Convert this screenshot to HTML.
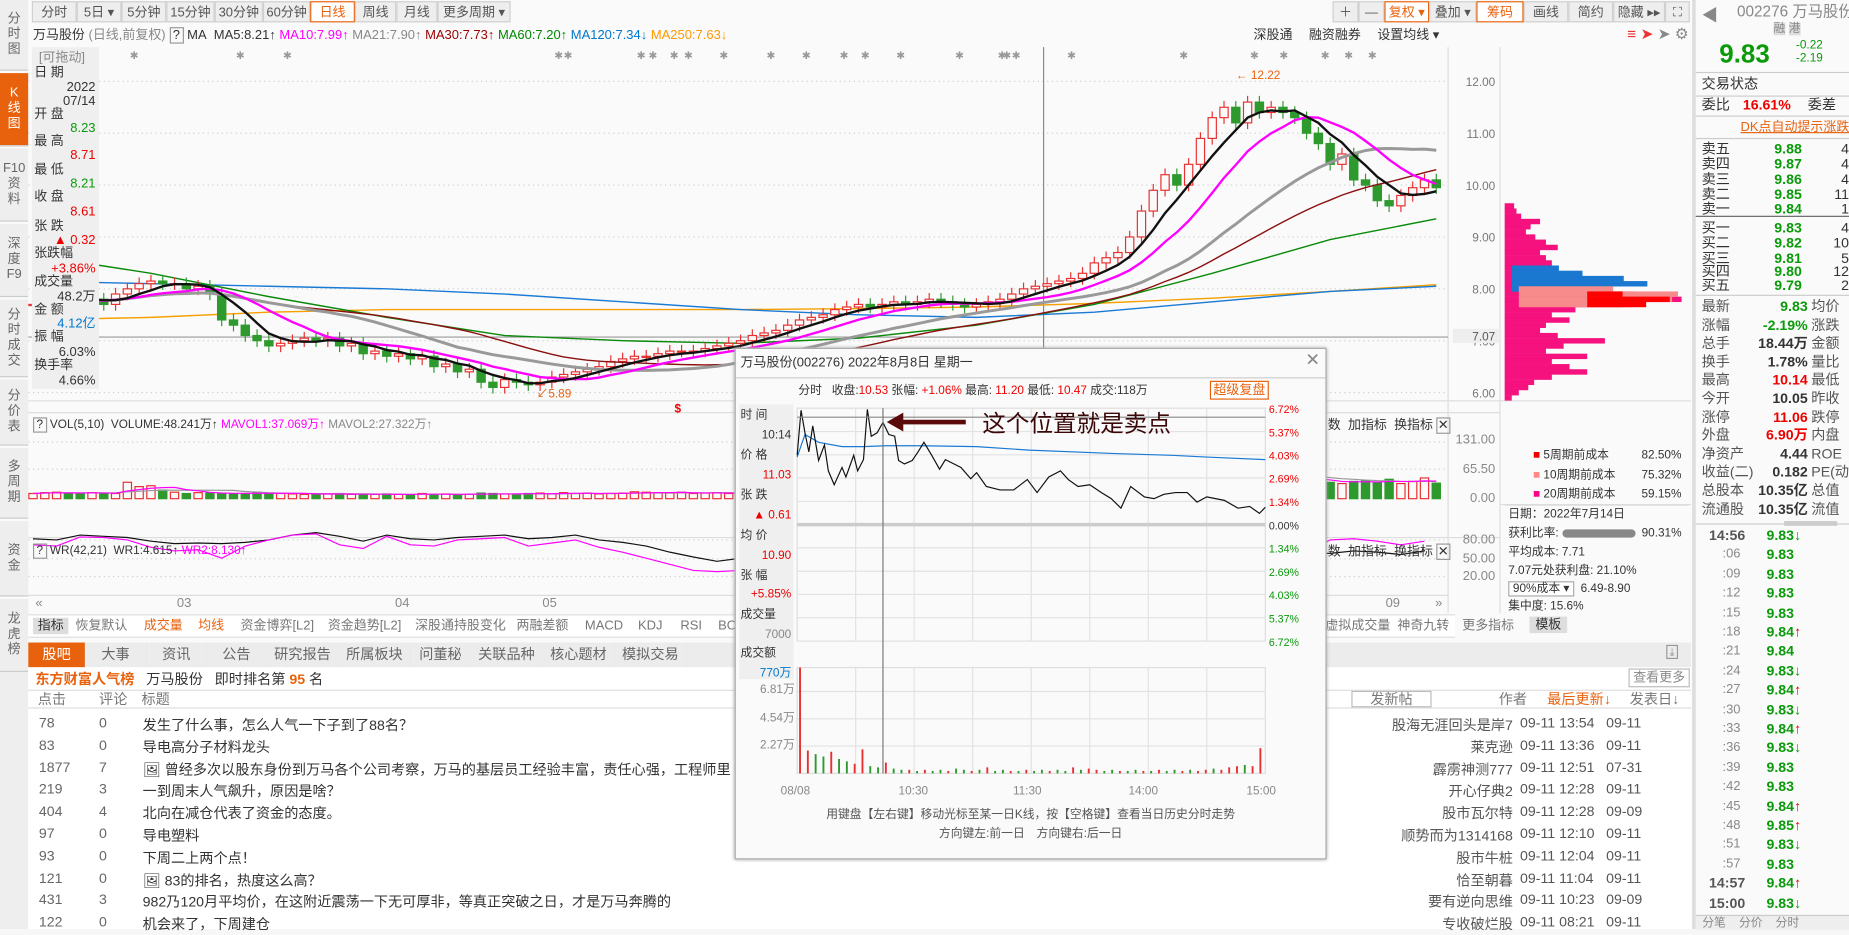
<!DOCTYPE html>
<html><head><meta charset="utf-8">
<style>
html,body{margin:0;padding:0;width:1849px;height:929px;overflow:hidden;background:#f7f7f7}
#root{position:absolute;left:0;top:0;width:1568px;height:788px;transform:scale(1.17921,1.17894);transform-origin:0 0;background:#fafafa;font-family:"Liberation Sans","Noto Sans CJK SC",sans-serif;font-size:11px;color:#333}
.a{position:absolute;white-space:nowrap;line-height:14px}
.r{text-align:right}
.btn{position:absolute;top:1px;height:18px;line-height:18px;text-align:center;background:#eeeeee;border:1px solid #d0d0d0;color:#555;font-size:11px;box-sizing:border-box}
.side{position:absolute;left:0;width:24px;background:#eeeeee;border-bottom:1px solid #ccc;color:#666;font-size:11px;text-align:center;line-height:13px;display:flex;align-items:center;justify-content:center;box-sizing:border-box}
.g{color:#0a9a0a}.red{color:#e00}.gr{color:#888}
.tab{position:absolute;top:545px;height:21px;line-height:21px;text-align:center;background:#ececec;border-right:1px solid #ccc;color:#666;font-size:12px}
.row{position:absolute;left:27px;width:1190px;height:18px;font-size:12px;color:#333}
.row span{position:absolute;top:0;white-space:nowrap}
</style></head><body>
<div id="root">

<!-- left sidebar -->
<div class="side" style="top:0;height:60px">分<br>时<br>图</div>
<div class="side" style="top:62px;height:62px;background:#e8620e;color:#fff">K<br>线<br>图</div>
<div class="side" style="top:126px;height:62px">F10<br>资<br>料</div>
<div class="side" style="top:190px;height:62px">深<br>度<br>F9</div>
<div class="side" style="top:254px;height:66px">分<br>时<br>成<br>交</div>
<div class="side" style="top:322px;height:56px">分<br>价<br>表</div>
<div class="side" style="top:380px;height:60px">多<br>周<br>期</div>
<div class="side" style="top:442px;height:64px">资<br>金</div>
<div class="side" style="top:508px;height:62px">龙<br>虎<br>榜</div>
<div class="side" style="top:570px;height:218px;border:none"></div>

<!-- top toolbar -->
<div class="btn" style="left:27px;width:38px">分时</div>
<div class="btn" style="left:65px;width:38px">5日 ▾</div>
<div class="btn" style="left:103px;width:38px">5分钟</div>
<div class="btn" style="left:141px;width:41px">15分钟</div>
<div class="btn" style="left:182px;width:41px">30分钟</div>
<div class="btn" style="left:223px;width:40px">60分钟</div>
<div class="btn" style="left:263px;width:38px;background:#fff;border-color:#e8620e;color:#e8620e">日线</div>
<div class="btn" style="left:301px;width:35px">周线</div>
<div class="btn" style="left:336px;width:35px">月线</div>
<div class="btn" style="left:371px;width:62px">更多周期 ▾</div>
<div class="btn" style="left:1130px;width:22px">＋</div>
<div class="btn" style="left:1152px;width:22px">—</div>
<div class="btn" style="left:1174px;width:38px;background:#fff;border-color:#e8620e;color:#e8620e">复权 ▾</div>
<div class="btn" style="left:1212px;width:40px">叠加 ▾</div>
<div class="btn" style="left:1252px;width:40px;background:#fff;border-color:#e8620e;color:#e8620e">筹码</div>
<div class="btn" style="left:1292px;width:38px">画线</div>
<div class="btn" style="left:1330px;width:38px">简约</div>
<div class="btn" style="left:1368px;width:44px">隐藏 ▸▸</div>
<div class="btn" style="left:1412px;width:21px">⛶</div>

<!-- MA legend -->
<div class="a" style="left:28px;top:23px;font-size:11px">万马股份 <span class="gr">(日线,前复权)</span> <span style="border:1px solid #999;padding:0 2px">?</span> MA&nbsp; <span>MA5:8.21↑</span> <span style="color:#f0f">MA10:7.99↑</span> <span class="gr">MA21:7.90↑</span> <span style="color:#900">MA30:7.73↑</span> <span style="color:#080">MA60:7.20↑</span> <span style="color:#07c">MA120:7.34↓</span> <span style="color:#f90">MA250:7.63↓</span></div>
<div class="a" style="left:1063px;top:23px">深股通</div>
<div class="a" style="left:1110px;top:23px">融资融券</div>
<div class="a" style="left:1168px;top:23px">设置均线 ▾</div>
<div class="a" style="left:1380px;top:22px;color:#e33;font-size:13px">≡ ➤ <span class="gr">➤ ⚙</span></div>

<svg id="main" class="a" style="left:0;top:0" width="1568" height="788"></svg>

<!-- info panel -->
<div class="a" style="left:27px;top:40px;width:57px;height:290px;background:#efefef;font-size:11px;line-height:12px">
<div class="a gr" style="left:6px;top:2px">[可拖动]</div>
<div class="a" style="left:2px;top:15px">日 期</div><div class="a r" style="right:3px;top:27px">2022</div><div class="a r" style="right:3px;top:39px">07/14</div>
<div class="a" style="left:2px;top:50px">开 盘</div><div class="a r g" style="right:3px;top:62px">8.23</div>
<div class="a" style="left:2px;top:73px">最 高</div><div class="a r red" style="right:3px;top:85px">8.71</div>
<div class="a" style="left:2px;top:97px">最 低</div><div class="a r g" style="right:3px;top:109px">8.21</div>
<div class="a" style="left:2px;top:120px">收 盘</div><div class="a r red" style="right:3px;top:133px">8.61</div>
<div class="a" style="left:2px;top:145px">张 跌</div><div class="a r red" style="right:3px;top:157px">▲ 0.32</div>
<div class="a" style="left:2px;top:168px">张跌幅</div><div class="a r red" style="right:3px;top:181px">+3.86%</div>
<div class="a" style="left:2px;top:192px">成交量</div><div class="a r" style="right:3px;top:205px">48.2万</div>
<div class="a" style="left:2px;top:216px">金 额</div><div class="a r" style="right:3px;top:228px;color:#07c">4.12亿</div>
<div class="a" style="left:2px;top:239px">振 幅</div><div class="a r" style="right:3px;top:252px">6.03%</div>
<div class="a" style="left:2px;top:263px">换手率</div><div class="a r" style="right:3px;top:276px">4.66%</div>
</div>

<!-- sub panel headers -->
<div class="a" style="left:28px;top:354px;font-size:10px"><span style="border:1px solid #999;padding:0 2px">?</span> VOL(5,10)&nbsp; VOLUME:48.241万↑ <span style="color:#f0f">MAVOL1:37.069万↑</span> <span class="gr">MAVOL2:27.322万↑</span></div>
<div class="a" style="left:28px;top:461px;font-size:10px"><span style="border:1px solid #999;padding:0 2px">?</span> WR(42,21)&nbsp; WR1:4.615↑ <span style="color:#f0f">WR2:8.130↑</span></div>
<div class="a" style="left:1126px;top:354px">数&nbsp; 加指标&nbsp; 换指标 <span style="border:1px solid #999">✕</span></div>
<div class="a" style="left:1126px;top:461px">数&nbsp; 加指标&nbsp; 换指标 <span style="border:1px solid #999">✕</span></div>
<div class="a gr r" style="left:1228px;width:40px;top:366px">131.00</div>
<div class="a gr r" style="left:1228px;width:40px;top:391px">65.50</div>
<div class="a gr r" style="left:1228px;width:40px;top:416px">0.00</div>
<div class="a gr r" style="left:1228px;width:40px;top:451px">80.00</div>
<div class="a gr r" style="left:1228px;width:40px;top:467px">50.00</div>
<div class="a gr r" style="left:1228px;width:40px;top:482px">20.00</div>
<div class="a gr" style="left:30px;top:505px">«</div>
<div class="a gr" style="left:150px;top:505px">03</div>
<div class="a gr" style="left:335px;top:505px">04</div>
<div class="a gr" style="left:460px;top:505px">05</div>
<div class="a gr" style="left:1175px;top:505px">09</div>
<div class="a gr" style="left:1217px;top:505px">»</div>

<!-- indicator tabs -->
<div class="a" style="left:24px;top:521px;width:1210px;height:18px;background:#fff;border-top:1px solid #ddd;border-bottom:1px solid #ddd;font-size:11px;color:#777">
<span class="a" style="left:4px;top:2px;background:#ddd;padding:0 4px;color:#333">指标</span>
<span class="a" style="left:40px;top:2px">恢复默认</span>
<span class="a" style="left:98px;top:2px;color:#e8620e">成交量</span>
<span class="a" style="left:144px;top:2px;color:#e8620e">均线</span>
<span class="a" style="left:180px;top:2px">资金博弈[L2]</span>
<span class="a" style="left:254px;top:2px">资金趋势[L2]</span>
<span class="a" style="left:328px;top:2px">深股通持股变化</span>
<span class="a" style="left:414px;top:2px">两融差额</span>
<span class="a" style="left:472px;top:2px">MACD</span>
<span class="a" style="left:517px;top:2px">KDJ</span>
<span class="a" style="left:553px;top:2px">RSI</span>
<span class="a" style="left:585px;top:2px">BO</span>
<span class="a" style="left:1100px;top:2px">虚拟成交量</span>
<span class="a" style="left:1161px;top:2px">神奇九转</span>
<span class="a" style="left:1216px;top:2px">更多指标</span>
</div>
<div class="a" style="left:1297px;top:523px;background:#ddd;padding:0 5px">模板</div>

<!-- chip info -->
<div class="a" style="left:1300px;top:380px;font-size:10px">
<div class="a" style="left:0;top:0"><span style="color:#e00">■</span> 5周期前成本</div><div class="a" style="left:92px;top:0">82.50%</div>
<div class="a" style="left:0;top:17px"><span style="color:#f88">■</span> 10周期前成本</div><div class="a" style="left:92px;top:17px">75.32%</div>
<div class="a" style="left:0;top:33px"><span style="color:#f08">■</span> 20周期前成本</div><div class="a" style="left:92px;top:33px">59.15%</div></div>
<div class="a" style="left:1276px;top:428px;width:156px;height:92px;font-size:10px;border-top:1px solid #ddd;line-height:16px">
<div class="a" style="left:3px;top:1px">日期：2022年7月14日</div>
<div class="a" style="left:3px;top:17px">获利比率: <span style="display:inline-block;width:62px;height:7px;background:#888;border-radius:4px;vertical-align:middle"></span>&nbsp; 90.31%</div>
<div class="a" style="left:3px;top:33px">平均成本: 7.71</div>
<div class="a" style="left:3px;top:49px">7.07元处获利盘: 21.10%</div>
<div class="a" style="left:3px;top:64px"><span style="border:1px solid #aaa;padding:0 3px;background:#fff">90%成本 ▾</span>&nbsp; 6.49-8.90</div>
<div class="a" style="left:3px;top:79px">集中度: 15.6%</div></div>

<!-- right quote panel -->
<div class="a" style="left:1435px;top:0;width:133px;height:788px;background:#fafafa;border-left:3px solid #ddd;font-size:12px">
<div class="a gr" style="left:5px;top:6px;font-size:14px">◀</div>
<div class="a gr" style="left:35px;top:3px;font-size:13px">002276 万马股份</div>
<div class="a gr" style="left:66px;top:18px;font-size:10px"><span style="background:#ddd">融</span> <span style="background:#ddd">港</span></div>
<div class="a g" style="left:20px;top:34px;font-size:22px;line-height:24px;font-weight:bold">9.83</div>
<div class="a g" style="left:85px;top:33px;font-size:10px;line-height:11px">-0.22<br>-2.19</div>
<div class="a" style="left:0;top:61px;width:133px;border-top:1px solid #ccc;border-bottom:1px solid #ccc;height:19px;line-height:19px;padding-left:5px">交易状态</div>
<div class="a" style="left:5px;top:82px">委比</div><div class="a red" style="left:40px;top:82px;font-weight:bold">16.61%</div><div class="a" style="left:95px;top:82px">委差</div>
<div class="a" style="left:0;top:98px;width:133px;border-top:1px solid #ccc"></div>
<div class="a" style="left:38px;top:101px;color:#e8620e;text-decoration:underline;font-size:11px">DK点自动提示涨跌</div>
<div class="a" style="left:0;top:117px;width:133px;border-top:1px solid #ccc"></div>
<div id="book"></div>
<div class="a" style="left:0;top:444px;width:133px;border-top:1px solid #ccc"></div>
<div class="a" style="left:75px;top:442px;width:45px;height:4px;background:#ccc"></div>
<div id="ticks"></div>
<div class="a" style="left:0;top:776px;width:133px;height:12px;background:#eee;border-top:1px solid #ccc;font-size:10px;color:#888">&nbsp;&nbsp;分笔&nbsp;&nbsp;&nbsp; 分价&nbsp;&nbsp;&nbsp; 分时</div>
</div>

<!-- news section -->
<div class="tab" style="left:24px;width:48px;background:#e8620e;color:#fff">股吧</div>
<div class="tab" style="left:72px;width:52px">大事</div>
<div class="tab" style="left:124px;width:51px">资讯</div>
<div class="tab" style="left:175px;width:51px">公告</div>
<div class="tab" style="left:226px;width:61px">研究报告</div>
<div class="tab" style="left:287px;width:61px">所属板块</div>
<div class="tab" style="left:348px;width:51px">问董秘</div>
<div class="tab" style="left:399px;width:61px">关联品种</div>
<div class="tab" style="left:460px;width:61px">核心题材</div>
<div class="tab" style="left:521px;width:61px">模拟交易</div>
<div class="a" style="left:582px;top:545px;width:852px;height:21px;background:#ececec"></div>
<div class="a gr" style="left:1413px;top:547px;border:1px solid #999;font-size:9px;line-height:10px;padding:0 2px">⤓</div>
<div class="a" style="left:24px;top:566px;width:1410px;height:222px;background:#fff"></div>
<div class="a" style="left:30px;top:568px;font-size:12px;line-height:16px"><b style="color:#e8620e">东方财富人气榜</b>&nbsp;&nbsp; 万马股份&nbsp;&nbsp; 即时排名第 <b style="color:#e8620e">95</b> 名</div>
<div class="a gr" style="left:1381px;top:567px;border:1px solid #bbb;padding:0 3px;font-size:11px">查看更多</div>
<div class="a" style="left:24px;top:585px;width:1410px;height:14px;border-top:1px solid #ddd;border-bottom:1px solid #ddd;color:#777;font-size:12px;line-height:14px">
<span class="a" style="left:8px">点击</span><span class="a" style="left:60px">评论</span><span class="a" style="left:96px">标题</span>
<span class="a" style="left:1122px;top:0;border:1px solid #bbb;width:66px;text-align:center;height:12px;line-height:12px">发新帖</span>
<span class="a" style="left:1247px">作者</span><span class="a" style="left:1288px;color:#e8620e">最后更新↓</span><span class="a" style="left:1358px">发表日↓</span></div>
<div id="news"></div>

<!-- popup -->
<div class="a" style="left:623px;top:295px;width:500px;height:432px;background:#fafafa;border:1px solid #aaa;box-shadow:0 0 3px #999">
<svg id="pop" class="a" style="left:0;top:0" width="500" height="432"></svg>
<div class="a" style="left:4px;top:5px;font-size:11px">万马股份(002276) 2022年8月8日 星期一</div>
<div class="a gr" style="left:483px;top:3px;font-size:15px">✕</div>
<div class="a" style="left:0;top:24px;width:500px;border-top:1px solid #ccc"></div>
<div class="a" style="left:53px;top:29px;font-size:10px">分时&nbsp;&nbsp; 收盘:<span class="red">10.53</span> 张幅: <span class="red">+1.06%</span> 最高: <span class="red">11.20</span> 最低: <span class="red">10.47</span> 成交:118万</div>
<div class="a" style="left:402px;top:27px;border:1px solid #e8620e;color:#e8620e;padding:0 2px;font-size:11px;background:#fff">超级复盘</div>
<div class="a" style="left:3px;top:47px;width:46px;height:233px;background:#efefef;font-size:10px;line-height:12px">
<div class="a" style="left:1px;top:3px">时 间</div><div class="a r" style="right:2px;top:20px">10:14</div>
<div class="a" style="left:1px;top:37px">价 格</div><div class="a r red" style="right:2px;top:54px">11.03</div>
<div class="a" style="left:1px;top:71px">张 跌</div><div class="a r red" style="right:2px;top:88px">▲ 0.61</div>
<div class="a" style="left:1px;top:105px">均 价</div><div class="a r red" style="right:2px;top:122px">10.90</div>
<div class="a" style="left:1px;top:139px">张 幅</div><div class="a r red" style="right:2px;top:155px">+5.85%</div>
<div class="a" style="left:1px;top:172px">成交量</div><div class="a r gr" style="right:2px;top:189px">7000</div>
<div class="a" style="left:1px;top:205px">成交额</div><div class="a r" style="right:2px;top:222px;color:#07c">770万</div></div>
<div class="a gr r" style="left:0;width:50px;top:283px;font-size:10px">6.81万</div>
<div class="a gr r" style="left:0;width:50px;top:307px;font-size:10px">4.54万</div>
<div class="a gr r" style="left:0;width:50px;top:330px;font-size:10px">2.27万</div>
<div class="a gr" style="left:38px;top:369px;font-size:10px">08/08</div>
<div class="a gr" style="left:138px;top:369px;font-size:10px">10:30</div>
<div class="a gr" style="left:235px;top:369px;font-size:10px">11:30</div>
<div class="a gr" style="left:333px;top:369px;font-size:10px">14:00</div>
<div class="a gr" style="left:433px;top:369px;font-size:10px">15:00</div>
<div class="a" style="left:0;top:388px;width:500px;text-align:center;font-size:10px;color:#555;line-height:16px">用键盘【左右键】移动光标至某一日K线，按【空格键】查看当日历史分时走势<br>方向键左:前一日　方向键右:后一日</div>
<div class="a" style="left:209px;top:52px;font-size:20px;line-height:24px;color:#3a0808">这个位置就是卖点</div>
</div>
</div>

<script>
const NS='http://www.w3.org/2000/svg';
// ===== daily K-line data =====
const closes=[7.7,7.8,7.9,7.8,7.7,7.8,
7.7,7.9,8.0,8.1,8.15,8.1,8.1,8.0,8.05,7.9,
7.4,7.3,7.1,7.0,6.9,6.95,7.0,7.05,7.0,7.05,
6.9,6.95,6.75,6.8,6.7,6.75,6.65,6.7,6.5,6.55,
6.4,6.45,6.2,6.1,6.25,6.2,6.15,6.2,6.3,6.35,
6.4,6.45,6.5,6.6,6.65,6.7,6.7,6.75,6.8,6.8,
6.8,6.85,6.9,6.95,7.0,7.1,7.15,7.2,7.3,7.4,
7.45,7.5,7.6,7.65,7.7,7.65,7.7,7.75,7.7,7.75,
7.8,7.75,7.7,7.65,7.7,7.75,7.8,7.9,8.0,8.05,
8.1,8.15,8.2,8.3,8.5,8.6,8.7,9.0,9.5,9.9,
10.2,10.0,10.4,10.9,11.3,11.5,11.2,11.6,11.4,11.5,
11.4,11.3,11.0,10.8,10.4,10.6,10.1,10.0,9.7,9.6,
9.8,9.95,10.1,9.95];
const volumes=[12,14,15,13,12,14,13,12,38,28,
30,20,15,12,14,13,12,11,12,15,
13,12,11,10,10,11,12,10,9,10,
11,10,9,12,10,11,9,10,13,12,
11,10,12,13,11,14,12,13,11,12,
13,16,15,14,13,15,12,13,14,12,
14,15,16,18,15,17,16,18,20,19,
17,18,16,15,17,16,18,17,19,18,
20,22,21,24,26,25,28,30,27,32,
35,38,40,45,60,65,70,55,62,58,
66,60,55,58,50,48,52,45,40,42,
38,35,40,42,38,45,35,40,48,36];
const longMaIdx=[0,10,20,30,40,50,60,70,80,90,100,110,119];
const ma60=[8.65,8.3,7.85,7.45,7.1,7.0,6.95,7.05,7.3,7.7,8.3,8.95,9.35];
const ma120=[8.15,8.1,8.05,8.0,7.9,7.75,7.6,7.5,7.45,7.55,7.75,7.95,8.05];
const ma250=[7.4,7.45,7.55,7.6,7.6,7.6,7.6,7.62,7.65,7.72,7.82,7.95,8.08];
const priceTicks=[12,11,10,9,8,7,6];
const wr1=[82,80,88,86,84,78,74,75,74,76,80,88,92,86,78,88,82,80,84,86,88,
82,84,88,80,76,70,60,52,45,
50,55,60,62,65,70,72,70,68,72,75,78,80,78,82,85,88,85,80,75,70,68,65,60,58,
58,62,60,56,62];
const wr2=[72,70,85,84,80,68,62,64,50,70,80,88,90,72,66,86,72,70,80,82,84,
70,75,80,68,60,50,40,30,28,
30,35,45,50,55,60,62,60,58,62,70,75,78,74,80,84,90,86,80,76,72,70,66,62,60,
80,82,78,72,78];
// chip distribution
const chipP=[9.6,9.5,9.4,9.3,9.2,9.1,9.0,8.9,8.8,8.7,8.6,8.5,8.4,8.3,8.2,8.1,8.0,7.9,7.8,7.7,7.6,7.5,7.4,7.3,7.2,7.1,7.0,6.9,6.8,6.7,6.6,6.5,6.4,6.3,6.2,6.1,6.0,5.9];
const chipPink=[8,10,14,30,22,18,26,35,45,30,35,40,45,30,25,22,60,110,150,100,60,40,55,35,30,45,85,50,35,70,40,55,70,40,25,20,12,6];
const chipBlue=[0,0,0,0,0,0,0,0,0,0,0,0,40,60,95,115,45,0,0,0,0,0,0,0,0,0,0,0,0,0,0,0,0,0,0,0,0,0];
const chipSalmon=[0,0,0,0,0,0,0,0,0,0,0,0,0,0,0,0,80,135,130,95,0,0,0,0,0,0,0,0,0,0,0,0,0,0,0,0,0,0];
const chipRed=[0,0,0,0,0,0,0,0,0,0,0,0,0,0,0,0,0,30,70,50,0,0,0,0,0,0,0,0,0,0,0,0,0,0,0,0,0,0];

const X0=28,DX=10;
const xOf=i=>X0+i*DX;
const yOf=p=>69+(12-p)*44;
const vY=v=>423-v*48/131;
const wrX=j=>X0+j*20;
const wrY=v=>458+(80-v)*31/60;

function mk(tag,at){const e=document.createElementNS(NS,tag);for(const k in at)e.setAttribute(k,at[k]);return e;}
const S=document.getElementById('main');

let r=mk('rect',{x:24,y:40,width:1204,height:300,fill:'#fafafa'});S.appendChild(r);
[[24,340,1434,340],[24,350,1228,350],[24,456,1228,456],[24,505,1228,505],[1228,40,1228,520],[1272,40,1272,520],[1228,350,1272,350],[1228,456,1272,456],[1272,428,1434,428]].forEach(a=>{
 const l=mk('line',{x1:a[0],y1:a[1],x2:a[2],y2:a[3],stroke:'#ddd'});
 
 
 S.appendChild(l);});
priceTicks.forEach(p=>{
 const l=mk('line',{x1:24,x2:1228,y1:yOf(p),y2:yOf(p),stroke:'#ccc','stroke-dasharray':'1,3'});
 
 
 S.appendChild(l);
 const t=mk('text',{x:1268,y:yOf(p)+4,'text-anchor':'end','font-size':10,fill:'#777'});t.textContent=p.toFixed(2);
 
 
 S.appendChild(t);});
[375,398].forEach(y=>{const l=mk('line',{x1:24,x2:1228,y1:y,y2:y,stroke:'#ccc','stroke-dasharray':'1,3'});S.appendChild(l);});
[458,474,489].forEach(y=>{const l=mk('line',{x1:24,x2:1228,y1:y,y2:y,stroke:'#ccc','stroke-dasharray':'1,3'});S.appendChild(l);});
let cp=mk('line',{x1:24,x2:1228,y1:yOf(7.07),y2:yOf(7.07),stroke:'#999'});S.appendChild(cp);
let cb=mk('rect',{x:1232,y:yOf(7.07)-7,width:40,height:12,fill:'#eee'});S.appendChild(cb);
let ct=mk('text',{x:1268,y:yOf(7.07)+3,'text-anchor':'end','font-size':10,fill:'#555'});ct.textContent='7.07';S.appendChild(ct);
let cur=mk('line',{x1:885,x2:885,y1:40,y2:340,stroke:'#888'});S.appendChild(cur);
[110,200,240,470,478,540,550,568,580,610,650,680,712,730,760,810,846,850,858,905,1000,1060,1085,1120,1140,1160].forEach(x=>{
 const t=mk('text',{x:x,y:50,'font-size':9,fill:'#999'});t.textContent='✱';
 
 
 S.appendChild(t);});

function poly(pts,col,w,name){const p=mk('polyline',{points:pts.map(q=>q.join(',')).join(' '),fill:'none',stroke:col,'stroke-width':w});S.appendChild(p);}
poly(longMaIdx.map((ix,k)=>[xOf(ix),yOf(ma250[k])]),'#f5a000',1.2,'ma250-line');
poly(longMaIdx.map((ix,k)=>[xOf(ix),yOf(ma120[k])]),'#1a7ad4',1.2,'ma120-line');
poly(longMaIdx.map((ix,k)=>[xOf(ix),yOf(ma60[k])]),'#0a8a0a',1.2,'ma60-line');
function ma(arr,n){return arr.map((v,i)=>{const s=arr.slice(Math.max(0,i-n+1),i+1);return s.reduce((a,b)=>a+b,0)/s.length;});}
closes.forEach((c,i)=>{
 const o=i?closes[i-1]:c; const up=c>=o; const col=up?'#e83030':'#2e9a2e';
 const hi=Math.max(o,c)+0.12, lo=Math.min(o,c)-0.12;
 const w=mk('line',{x1:xOf(i),x2:xOf(i),y1:yOf(hi),y2:yOf(lo),stroke:col});
 
 
 S.appendChild(w);
 const b=mk('rect',{x:xOf(i)-3.5,y:yOf(Math.max(o,c)),width:7,height:Math.max(1,Math.abs(yOf(o)-yOf(c))),fill:up?'#fafafa':col,stroke:col});
 
 
 S.appendChild(b);
 const vb=mk('rect',{x:xOf(i)-3.5,y:vY(volumes[i]),width:7,height:423-vY(volumes[i]),fill:up?'#fafafa':col,stroke:col});
 
 
 S.appendChild(vb);
});
poly(ma(closes,30).map((v,i)=>[xOf(i),yOf(v)]),'#8b1010',1.2,'ma30-line');
poly(ma(closes,21).map((v,i)=>[xOf(i),yOf(v)]),'#999',2.5,'ma21-line');
poly(ma(closes,10).map((v,i)=>[xOf(i),yOf(v)]),'#ff00ff',2,'ma10-line');
poly(ma(closes,5).map((v,i)=>[xOf(i),yOf(v)]),'#111',2,'ma5-line');
poly(ma(volumes,10).map((v,i)=>[xOf(i),vY(v)]),'#999',1,'mavol2-line');
poly(ma(volumes,5).map((v,i)=>[xOf(i),vY(v)]),'#ff00ff',1,'mavol1-line');
poly(wr1.map((v,j)=>[wrX(j),wrY(v)]),'#111',1,'wr1-line');
poly(wr2.map((v,j)=>[wrX(j),wrY(v)]),'#ff00ff',1,'wr2-line');
let hl=mk('text',{x:1048,y:67,'font-size':10,fill:'#e8620e'});hl.textContent='← 12.22';S.appendChild(hl);
let ll=mk('text',{x:455,y:337,'font-size':10,fill:'#e8620e'});ll.textContent='↙5.89';S.appendChild(ll);
let dl=mk('text',{x:572,y:350,'font-size':10,fill:'#e00','font-weight':'bold'});dl.textContent='$';S.appendChild(dl);
const chipX0=1276;
function chipLayer(arr,start,col,name){arr.forEach((w,k)=>{if(!w)return;
 const rr=mk('rect',{x:chipX0+start,y:yOf(chipP[k])-2.2,width:w,height:4.6,fill:col});
 
 
 S.appendChild(rr);});}
chipLayer(chipPink,0,'#f5117e','chip-bar-20');
chipLayer(chipBlue,6,'#1a78d0','chip-bar-blue');
chipLayer(chipSalmon,12,'#f78a8a','chip-bar-10');
chipLayer(chipRed,70,'#f00','chip-bar-5');

const bookLabels=['卖五','卖四','卖三','卖二','卖一','买一','买二','买三','买四','买五'];
const bookPrices=['9.88','9.87','9.86','9.85','9.84','9.83','9.82','9.81','9.80','9.79'];
const bookVols=['4','4','4','11','1','4','10','5','12','2'];
const bookY=[119,132,145,158,170,186,199,212,223,235];
let h='';
bookLabels.forEach((l,k)=>{h+=`<div class="a" style="left:5px;top:${bookY[k]}px">${l}</div><div class="a g r" style="left:40px;width:50px;top:${bookY[k]}px;font-weight:bold">${bookPrices[k]}</div><div class="a r" style="left:100px;width:30px;top:${bookY[k]}px">${bookVols[k]}</div>`;});
h+='<div class="a" style="left:0;top:183px;width:133px;border-top:1px solid #666"></div><div class="a" style="left:0;top:250px;width:133px;border-top:1px solid #ccc"></div>';
const stat=[['最新','9.83','g','均价'],['涨幅','-2.19%','g','涨跌'],['总手','18.44万','','金额'],['换手','1.78%','','量比'],['最高','10.14','red','最低'],['今开','10.05','','昨收'],['涨停','11.06','red','跌停'],['外盘','6.90万','red','内盘'],['净资产','4.44','','ROE'],['收益(二)','0.182','','PE(动)'],['总股本','10.35亿','','总值'],['流通股','10.35亿','','流值']];
stat.forEach((s,k)=>{const y=253+k*15.6;h+=`<div class="a" style="left:5px;top:${y}px;color:#555">${s[0]}</div><div class="a r ${s[2]}" style="left:40px;width:55px;top:${y}px;font-weight:bold">${s[1]}</div><div class="a" style="left:98px;top:${y}px;color:#555">${s[3]}</div>`;});
document.getElementById('book').innerHTML=h;
const tT=['14:56',':06',':09',':12',':15',':18',':21',':24',':27',':30',':33',':36',':39',':42',':45',':48',':51',':57','14:57','15:00'];
const tP=['9.83','9.83','9.83','9.83','9.83','9.84','9.84','9.83','9.84','9.83','9.84','9.83','9.83','9.83','9.84','9.85','9.83','9.83','9.84','9.83'];
const tD=['↓','','','','','↑','','↓','↑','↓','↑','↓','','','↑','↑','↓','','↑','↓'];
h='';
tT.forEach((t,k)=>{const y=447+k*16.4;const big=t.length>3;h+=`<div class="a r" style="left:0;width:${big?42:38}px;top:${y}px;${big?'font-weight:bold;color:#555':'color:#888;font-size:11px'}">${t}</div><div class="a g" style="left:60px;top:${y}px;font-weight:bold">${tP[k]}<span style="color:${tD[k]=='↑'?'#e00':'#0a9a0a'}">${tD[k]}</span></div>`;});
document.getElementById('ticks').innerHTML=h;

const nClicks=['78','83','1877','219','404','97','93','121','431','122'];
const nComm=['0','0','7','3','4','0','0','0','3','0'];
const nTitle=['发生了什么事，怎么人气一下子到了88名？','导电高分子材料龙头','🖼 曾经多次以股东身份到万马各个公司考察，万马的基层员工经验丰富，责任心强，工程师里','一到周末人气飙升，原因是啥？','北向在减仓代表了资金的态度。','导电塑料','下周二上两个点！','🖼 83的排名，热度这么高？','982乃120月平均价，在这附近震荡一下无可厚非，等真正突破之日，才是万马奔腾的','机会来了，下周建仓'];
const nAuth=['股海无涯回头是岸7','莱克逊','霹雳神测777','开心仔典2','股市瓦尔特','顺势而为1314168','股市牛桩','恰至朝暮','要有逆向思维','专收破烂股'];
const nUpd=['09-11 13:54','09-11 13:36','09-11 12:51','09-11 12:28','09-11 12:28','09-11 12:10','09-11 12:04','09-11 11:04','09-11 10:23','09-11 08:21'];
const nPub=['09-11','09-11','07-31','09-11','09-09','09-11','09-11','09-11','09-09','09-11'];
h='';
nClicks.forEach((c,k)=>{const y=606+k*18.8;h+=`<div class="row" style="top:${y}px"><span style="left:6px;color:#666">${c}</span><span style="left:57px;color:#666">${nComm[k]}</span><span style="left:94px">${nTitle[k]}</span><span style="right:-66px;width:150px;text-align:right;color:#555;left:auto">${nAuth[k]}</span><span style="left:1262px;color:#555">${nUpd[k]}</span><span style="left:1335px;color:#555">${nPub[k]}</span></div>`;});
document.getElementById('news').innerHTML=h;

// ===== popup intraday =====
const minutes=[0,2,4,6,8,11,14,16,19,23,25,29,31,34,36,38,41,44,47,50,52,55,59,62,65,69,73,76,84,89,92,97,104,111,118,123,129,135,139,144,150,156,161,166,171,178,183,188,194,200,205,210,219,226,232,237,240];
const pct=[4.0,6.6,5.3,4.2,5.7,3.7,4.6,3.1,2.3,3.3,2.75,4.0,3.1,3.75,6.65,5.1,5.3,5.9,5.2,5.1,3.7,3.5,3.7,4.2,4.75,4.0,3.2,3.75,3.3,2.65,3.0,2.2,2.0,2.0,2.6,1.85,2.75,3.1,2.6,2.2,2.3,1.85,1.5,0.95,2.2,1.6,1.5,1.75,1.85,1.85,1.3,1.6,1.4,0.95,1.05,0.65,1.0];
const avgMin=[0,4,11,23,34,45,64,92,119,163,192,210,240];
const avgPct=[3.9,5.2,4.75,4.5,4.5,4.55,4.55,4.5,4.3,4.1,4.0,3.9,3.75];
const minVol=[8.8,1.9,1.6,1.4,1.8,1.2,1.0,0.8,2.0,0.6,0.5,0.9,0.4,0.3,0.3,0.2,0.3,0.2,0.3,0.2,0.4,0.3,0.2,0.3,0.5,0.2,0.3,0.2,0.2,0.3,0.2,0.3,0.2,0.3,0.2,0.5,0.3,0.4,0.3,0.2,0.3,0.2,0.2,0.3,0.2,0.2,0.3,0.2,0.3,0.2,0.3,0.2,0.3,0.4,0.3,0.5,0.6,0.7,0.6,2.1];
const minVolUp=[1,1,0,0,1,0,0,1,1,0,0,1,0,0,1,0,1,0,0,1,0,0,1,0,1,0,0,1,0,1,0,0,1,0,0,1,0,1,1,0,0,1,0,0,1,0,1,0,0,1,0,1,1,0,1,1,1,0,1,1];
const pctTicks=[6.72,5.37,4.03,2.69,1.34,0,-1.34,-2.69,-4.03,-5.37,-6.72];
const P=document.getElementById('pop');
const OX=623,OY=295;
const px=m=>675-OX+m/240*397;
const py=v=>444-OY-v*14.7;
const pvy=v=>655-OY-v*10.2;
function pl(tag,at,name,inter){const e=mk(tag,at);P.appendChild(e);return e;}
pl('rect',{x:px(0),y:py(6.72),width:397,height:py(-6.72)-py(6.72),fill:'#fafafa',stroke:'#ddd'},'intraday-price-area','false');
pl('rect',{x:px(0),y:pvy(8.8),width:397,height:pvy(0)-pvy(8.8),fill:'#fafafa',stroke:'#ddd'},'intraday-volume-area','false');
for(let k=1;k<8;k++){pl('line',{x1:px(k*30),x2:px(k*30),y1:py(6.72),y2:py(-6.72),stroke:'#e2e2e2'},'intraday-vgrid','false');pl('line',{x1:px(k*30),x2:px(k*30),y1:pvy(8.8),y2:pvy(0),stroke:'#e2e2e2'},'intraday-vgrid','false');}
pctTicks.forEach(v=>{
 pl('line',{x1:px(0),x2:px(240),y1:py(v),y2:py(v),stroke:v===0?'#ccc':'#e2e2e2','stroke-width':v===0?3:1},'intraday-hgrid','false');
 const t=pl('text',{x:px(240)+3,y:py(v)+4,'font-size':9,fill:v>0?'#e00':(v<0?'#0a9a0a':'#333')},'pct-tick-label','false');
 t.textContent=Math.abs(v).toFixed(2)+'%';});
[2.27,4.54,6.81].forEach(v=>pl('line',{x1:px(0),x2:px(240),y1:pvy(v),y2:pvy(v),stroke:'#e2e2e2'},'intraday-vol-grid','false'));
minVol.forEach((v,j)=>{pl('rect',{x:px(j*4+1),y:pvy(v),width:1.6,height:pvy(0)-pvy(v),fill:minVolUp[j]?'#e83030':'#2e9a2e'},'minute-volume-bar','true');});
pl('polyline',{points:avgMin.map((m,k)=>px(m)+','+py(avgPct[k])).join(' '),fill:'none',stroke:'#1a7ad4','stroke-width':1},'avg-price-line','false');
pl('polyline',{points:minutes.map((m,k)=>px(m)+','+py(pct[k])).join(' '),fill:'none',stroke:'#111','stroke-width':1},'intraday-price-line','false');
pl('line',{x1:px(0),x2:px(240),y1:py(6.2),y2:py(6.2),stroke:'#888'},'crosshair-h','false');
pl('line',{x1:px(44),x2:px(44),y1:py(6.72),y2:pvy(0),stroke:'#777'},'crosshair-v','false');
pl('line',{x1:195,x2:137,y1:62,y2:62,stroke:'#5a0a0a','stroke-width':4},'annotation-arrow-shaft','false');
pl('polygon',{points:'128,62 142,54 142,70',fill:'#5a0a0a'},'annotation-arrow-head','false');
</script>
</body></html>
